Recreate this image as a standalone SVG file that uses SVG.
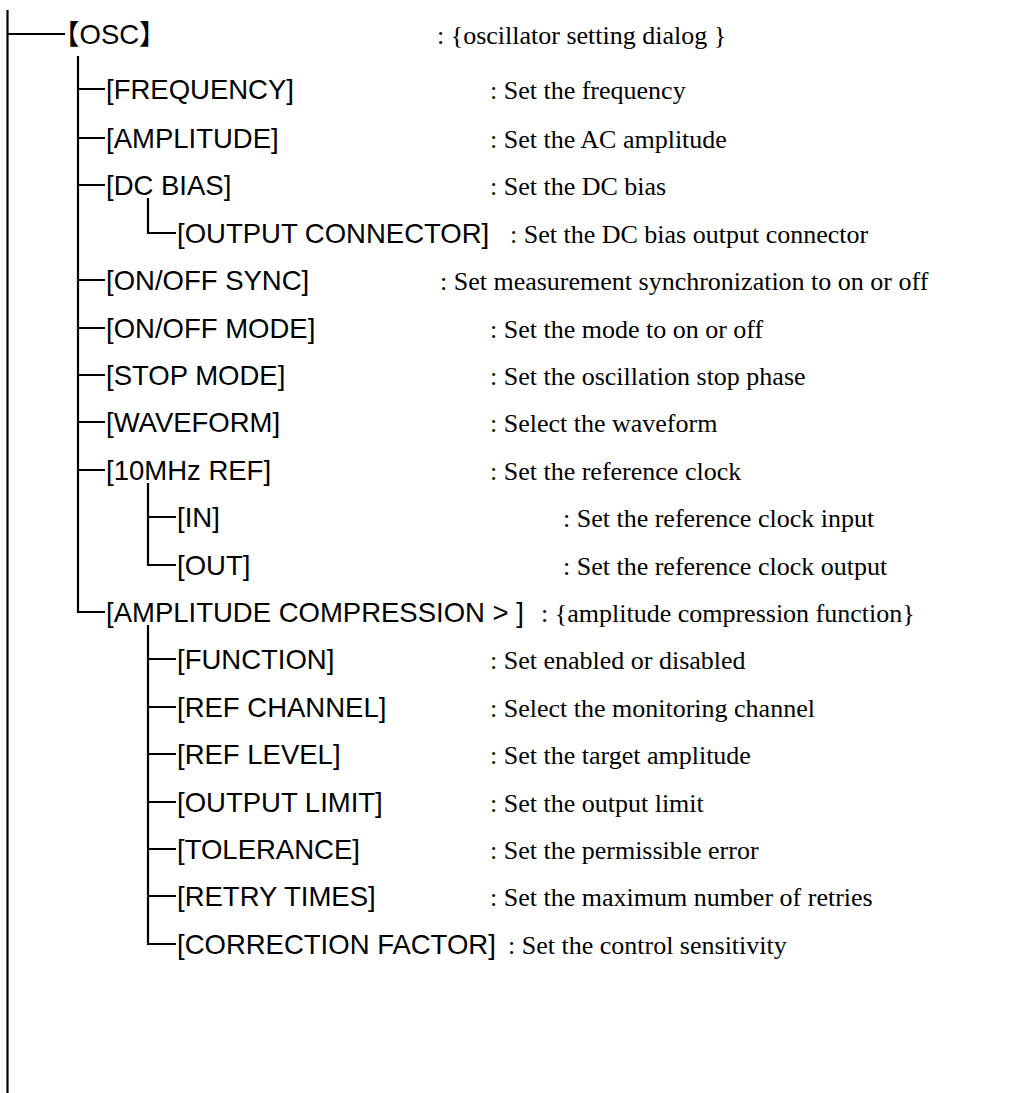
<svg xmlns="http://www.w3.org/2000/svg" width="1030" height="1093" viewBox="0 0 1030 1093">
<style>
.l{font-family:"Liberation Sans","Noto Sans CJK JP",Arial,sans-serif;font-size:27.5px;fill:#000}
.d{font-family:"Liberation Serif","Times New Roman",serif;font-size:26px;fill:#000}
.c{stroke:#000;stroke-width:2.2;fill:none}
</style>
<rect width="1030" height="1093" fill="#fff"/>
<g id="connectors" class="c">
<path d="M7.5,10V1093"/>
<path d="M7.5,34H65"/>
<path d="M78,56V612H105"/>
<path d="M78,89H105M78,138H105M78,185H105M78,280H105M78,328H105M78,375H105M78,422H105M78,470H105"/>
<path d="M148,198V233H176"/>
<path d="M148,483V565H176M148,517H176"/>
<path d="M148,625V944H176M148,659H176M148,707H176M148,754H176M148,802H176M148,849H176M148,896H176"/>
</g>
<g id="n0"><text class="l" x="52" y="44">【OSC】</text><text class="d" x="437" y="44">: {oscillator setting dialog }</text></g>
<g id="n1"><text class="l" x="106" y="99">[FREQUENCY]</text><text class="d" x="490" y="99">: Set the frequency</text></g>
<g id="n2"><text class="l" x="106" y="148">[AMPLITUDE]</text><text class="d" x="490" y="148">: Set the AC amplitude</text></g>
<g id="n3"><text class="l" x="106" y="195">[DC BIAS]</text><text class="d" x="490" y="195">: Set the DC bias</text></g>
<g id="n4"><text class="l" x="177" y="243">[OUTPUT CONNECTOR]</text><text class="d" x="510" y="243">: Set the DC bias output connector</text></g>
<g id="n5"><text class="l" x="106" y="290">[ON/OFF SYNC]</text><text class="d" x="440" y="290">: Set measurement synchronization to on or off</text></g>
<g id="n6"><text class="l" x="106" y="338">[ON/OFF MODE]</text><text class="d" x="490" y="338">: Set the mode to on or off</text></g>
<g id="n7"><text class="l" x="106" y="385">[STOP MODE]</text><text class="d" x="490" y="385">: Set the oscillation stop phase</text></g>
<g id="n8"><text class="l" x="106" y="432">[WAVEFORM]</text><text class="d" x="490" y="432">: Select the waveform</text></g>
<g id="n9"><text class="l" x="106" y="480">[10MHz REF]</text><text class="d" x="490" y="480">: Set the reference clock</text></g>
<g id="n10"><text class="l" x="177" y="527">[IN]</text><text class="d" x="563" y="527">: Set the reference clock input</text></g>
<g id="n11"><text class="l" x="177" y="575">[OUT]</text><text class="d" x="563" y="575">: Set the reference clock output</text></g>
<g id="n12"><text class="l" x="106" y="622">[AMPLITUDE COMPRESSION &gt; ]</text><text class="d" x="541" y="622">: {amplitude compression function}</text></g>
<g id="n13"><text class="l" x="177" y="669">[FUNCTION]</text><text class="d" x="490" y="669">: Set enabled or disabled</text></g>
<g id="n14"><text class="l" x="177" y="717">[REF CHANNEL]</text><text class="d" x="490" y="717">: Select the monitoring channel</text></g>
<g id="n15"><text class="l" x="177" y="764">[REF LEVEL]</text><text class="d" x="490" y="764">: Set the target amplitude</text></g>
<g id="n16"><text class="l" x="177" y="812">[OUTPUT LIMIT]</text><text class="d" x="490" y="812">: Set the output limit</text></g>
<g id="n17"><text class="l" x="177" y="859">[TOLERANCE]</text><text class="d" x="490" y="859">: Set the permissible error</text></g>
<g id="n18"><text class="l" x="177" y="906">[RETRY TIMES]</text><text class="d" x="490" y="906">: Set the maximum number of retries</text></g>
<g id="n19"><text class="l" x="177" y="954">[CORRECTION FACTOR]</text><text class="d" x="508" y="954">: Set the control sensitivity</text></g>
</svg>
